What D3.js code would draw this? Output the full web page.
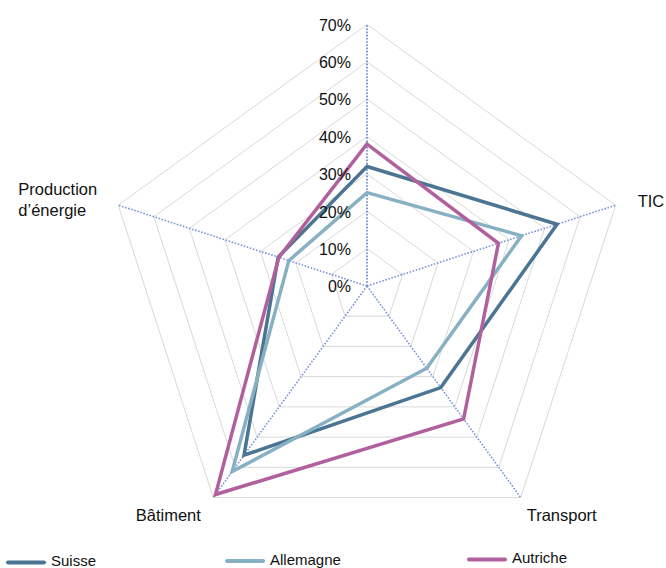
<!DOCTYPE html>
<html>
<head>
<meta charset="utf-8">
<script src="https://cdn.jsdelivr.net/npm/d3@7"></script>
<style>
  html, body { margin: 0; padding: 0; background: #fff; }
  svg { display: block; font-family: "Liberation Sans", Arial, sans-serif; }
</style>
</head>
<body>
<svg id="chart" width="666" height="568"></svg>
<script>
// Radar axes (clockwise from the top); the top axis carries the scale labels
const categories = ["", "TIC", "Transport", "Bâtiment", "Production\nd’énergie"];

// Shares per axis, in percent
const suisse    = [32, 53.5, 33.6, 56, 25];
const allemagne = [25, 43.5, 27.2, 61.4, 22];
const autriche  = [38, 37, 44, 69, 24.8];

const seriesNames = ["Suisse", "Allemagne", "Autriche"];
const tickValues = [0, 10, 20, 30, 40, 50, 60, 70];
const tickLabels = ["0%", "10%", "20%", "30%", "40%", "50%", "60%", "70%"];

const seriesColors = ["#4b7592", "#87b1c2", "#b0609c"];

const svg = d3.select("#chart");
const cx = 367, cy = 286, radius = 261.5;

const r = d3.scaleLinear().domain([0, 70]).range([0, radius]);
const angle = d3.scaleLinear().domain([0, categories.length]).range([0, 2 * Math.PI]);

const pt = (i, v) => {
  const a = angle(i);
  return [cx + r(v) * Math.sin(a), cy - r(v) * Math.cos(a)];
};

const g = svg.append("g");

// Grid pentagons
const ringLine = d3.line();
tickValues.filter(t => t > 0).forEach(t => {
  const pts = categories.map((_, i) => pt(i, t));
  g.append("path")
    .attr("d", ringLine(pts) + "Z")
    .attr("fill", "none")
    .attr("stroke", "#d9d9d9")
    .attr("stroke-width", 1);
});

// Dotted spokes
categories.forEach((_, i) => {
  const [x, y] = pt(i, 70);
  g.append("line")
    .attr("x1", cx).attr("y1", cy)
    .attr("x2", x).attr("y2", y)
    .attr("stroke", "#7b94d6")
    .attr("stroke-width", i === 0 ? 2 : 1.6)
    .attr("stroke-dasharray", "1.6 1.6");
});

// Series polygons
const radial = d3.lineRadial()
  .angle((d, i) => angle(i))
  .radius(d => r(d))
  .curve(d3.curveLinearClosed);

[suisse, allemagne, autriche].forEach((vals, k) => {
  g.append("path")
    .attr("transform", `translate(${cx},${cy})`)
    .attr("d", radial(vals))
    .attr("fill", "none")
    .attr("stroke", seriesColors[k])
    .attr("stroke-width", 3.5)
    .attr("stroke-linejoin", "miter");
});

// Scale labels on the top axis
tickValues.forEach((t, j) => {
  g.append("text")
    .attr("x", cx - 16)
    .attr("y", cy - r(t) + 2)
    .attr("text-anchor", "end")
    .attr("dominant-baseline", "middle")
    .attr("font-size", 16)
    .attr("fill", "#111")
    .text(tickLabels[j]);
});

// Category labels
const labelLayout = [
  null,
  { dx: 22, dy: -2, anchor: "start" },
  { dx: 41, dy: 19, anchor: "middle" },
  { dx: -45, dy: 19, anchor: "middle" },
  { dx: -100, dy: -14, anchor: "start" }
];
categories.forEach((c, i) => {
  const lay = labelLayout[i];
  if (!lay || !c) return;
  const [x, y] = pt(i, 70);
  const t = g.append("text")
    .attr("x", x + lay.dx)
    .attr("y", y + lay.dy)
    .attr("text-anchor", lay.anchor)
    .attr("dominant-baseline", "middle")
    .attr("font-size", 16.5)
    .attr("fill", "#111");
  c.split("\n").forEach((line, li) => {
    t.append("tspan")
      .attr("x", x + lay.dx)
      .attr("dy", li === 0 ? 0 : 21)
      .text(line);
  });
});

// Legend
const legendX = [8, 227, 469];
const legendY = [562.5, 561, 559.5];
seriesNames.forEach((name, k) => {
  const lg = svg.append("g").attr("transform", `translate(${legendX[k]},${legendY[k]})`);
  lg.append("line")
    .attr("x1", 0).attr("x2", 36)
    .attr("y1", 0).attr("y2", 0)
    .attr("stroke", seriesColors[k])
    .attr("stroke-width", 4)
    .attr("stroke-linecap", "round");
  lg.append("text")
    .attr("x", 43)
    .attr("y", 0)
    .attr("dominant-baseline", "middle")
    .attr("font-size", 15)
    .attr("fill", "#111")
    .text(name);
});
</script>
</body>
</html>
